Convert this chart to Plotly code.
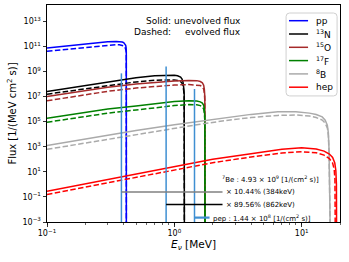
import numpy as np
import plotly.graph_objects as go

# ---------------- data (log10 of flux) ----------------
pp_E = [0.10, 0.15, 0.20, 0.25, 0.30, 0.35, 0.37, 0.39, 0.40, 0.41, 0.415, 0.418, 0.4195, 0.4200]
pp_solid = [10.87, 11.06, 11.20, 11.30, 11.38, 11.40, 11.39, 11.35, 11.30, 11.20, 11.08, 10.90, 10.55, -3.5]
pp_dashed = [10.62, 10.80, 10.94, 11.04, 11.12, 11.14, 11.13, 11.09, 11.04, 10.94, 10.82, 10.64, 10.30, -3.5]

n13_E = [0.10, 0.20, 0.30, 0.50, 0.70, 0.90, 1.00, 1.06, 1.12, 1.15, 1.17, 1.185, 1.195, 1.199]
n13_solid = [7.40, 7.88, 8.15, 8.50, 8.65, 8.71, 8.70, 8.66, 8.55, 8.40, 8.15, 7.70, 7.20, -3.5]
n13_dashed = [7.19, 7.60, 7.85, 8.17, 8.30, 8.34, 8.33, 8.29, 8.20, 8.06, 7.85, 7.45, 7.00, -3.5]

o15_E = [0.10, 0.20, 0.30, 0.50, 0.80, 1.00, 1.30, 1.50, 1.60, 1.66, 1.70, 1.72, 1.735, 1.74]
o15_solid = [7.00, 7.50, 7.75, 8.00, 8.18, 8.25, 8.29, 8.27, 8.20, 8.10, 7.90, 7.60, 7.00, -3.5]
o15_dashed = [6.66, 7.15, 7.42, 7.68, 7.86, 7.92, 7.96, 7.94, 7.88, 7.78, 7.60, 7.30, 6.70, -3.5]

f17_E = [0.10, 0.20, 0.30, 0.50, 0.80, 1.00, 1.30, 1.50, 1.60, 1.66, 1.70, 1.72, 1.735, 1.74]
f17_solid = [5.27, 5.75, 6.00, 6.25, 6.50, 6.60, 6.66, 6.65, 6.58, 6.48, 6.30, 6.00, 5.40, -3.5]
f17_dashed = [4.95, 5.43, 5.68, 5.93, 6.18, 6.28, 6.36, 6.35, 6.28, 6.18, 6.00, 5.70, 5.10, -3.5]

b8_E = [0.10, 0.20, 0.50, 1.00, 1.60, 2.50, 4.00, 6.50, 9.00, 11.5, 13.0, 14.5, 15.3, 15.9, 16.2, 16.4, 16.6, 16.75]
b8_solid = [3.10, 3.62, 4.30, 4.75, 5.02, 5.30, 5.58, 5.78, 5.78, 5.68, 5.57, 5.38, 5.12, 4.72, 4.10, 2.80, 0.30, -3.5]
b8_dashed = [2.79, 3.30, 3.97, 4.45, 4.80, 5.08, 5.33, 5.50, 5.53, 5.45, 5.33, 5.13, 4.88, 4.50, 3.90, 2.60, 0.10, -3.5]

hep_E = [0.10, 0.20, 0.50, 1.00, 2.00, 4.00, 7.00, 10.0, 13.0, 15.0, 16.5, 17.5, 18.2, 18.55, 18.75, 18.8]
hep_solid = [-0.54, 0.05, 0.85, 1.45, 2.00, 2.45, 2.80, 2.92, 2.82, 2.65, 2.42, 2.15, 1.70, 1.10, 0.00, -3.5]
hep_E_dashed = [0.10, 0.20, 0.50, 1.00, 2.00, 4.00, 7.00, 10.0, 13.0, 15.0, 16.5, 17.5, 18.0, 18.25, 18.35]
hep_dashed = [-0.81, -0.22, 0.58, 1.18, 1.73, 2.18, 2.50, 2.60, 2.52, 2.33, 2.05, 1.70, 1.20, 0.40, -3.5]

# 7Be lines (MeV) and their drawn heights (log10), pep line
be7_E = [0.384, 0.862]
be7_top = [8.85, 9.40]
pep_E = 1.44
pep_top = 7.60
y_floor = -4.0

# connector lines to the text labels
conn_y = [-0.60, -1.61]          # log10 flux of gray (384keV) and black (862keV) connectors
conn_end_E = 2.39
pep_conn_y = -2.65
pep_conn_end_E = 1.89

# tick labels
x_tick_vals = [0.1, 1, 10]
x_tick_text = ["10<sup>−1</sup>", "10<sup>0</sup>", "10<sup>1</sup>"]
y_tick_exp = [-3, -1, 1, 3, 5, 7, 9, 11, 13]
y_tick_text = ["10<sup>−3</sup>", "10<sup>−1</sup>", "10<sup>1</sup>", "10<sup>3</sup>", "10<sup>5</sup>",
               "10<sup>7</sup>", "10<sup>9</sup>", "10<sup>11</sup>", "10<sup>13</sup>"]

names = ["pp", "<sup>13</sup>N", "<sup>15</sup>O", "<sup>17</sup>F", "<sup>8</sup>B", "hep"]
colors = ["#0000ff", "#000000", "#a52a2a", "#008000", "#aaaaaa", "#ff0000"]
line_color = "#3f8fd2"

FONT = "DejaVu Sans"
W = 1.5
DASH = "5.5px,2.4px"

def f(v):
    return np.power(10.0, np.array(v, dtype=float))

fig = go.Figure()

series = [
    (pp_E, pp_solid, pp_E, pp_dashed),
    (n13_E, n13_solid, n13_E, n13_dashed),
    (o15_E, o15_solid, o15_E, o15_dashed),
    (f17_E, f17_solid, f17_E, f17_dashed),
    (b8_E, b8_solid, b8_E, b8_dashed),
    (hep_E, hep_solid, hep_E_dashed, hep_dashed),
]

for (es, ys, ed, yd), c in zip(series, colors):
    fig.add_trace(go.Scatter(x=es, y=f(ys), mode="lines", line=dict(color=c, width=W),
                             showlegend=False, hoverinfo="skip"))
    fig.add_trace(go.Scatter(x=ed, y=f(yd), mode="lines", line=dict(color=c, width=W, dash=DASH),
                             showlegend=False, hoverinfo="skip"))

# 7Be and pep vertical lines
for e, t in zip(be7_E, be7_top):
    fig.add_trace(go.Scatter(x=[e, e], y=f([y_floor, t]), mode="lines",
                             line=dict(color=line_color, width=W), showlegend=False, hoverinfo="skip"))
fig.add_trace(go.Scatter(x=[pep_E, pep_E], y=f([y_floor, pep_top]), mode="lines",
                         line=dict(color=line_color, width=W), showlegend=False, hoverinfo="skip"))

# connectors
conn_colors = ["#808080", "#000000"]
for e, yv, c in zip(be7_E, conn_y, conn_colors):
    fig.add_trace(go.Scatter(x=[e, conn_end_E], y=f([yv, yv]), mode="lines",
                             line=dict(color=c, width=W), showlegend=False, hoverinfo="skip"))
fig.add_trace(go.Scatter(x=[pep_E, pep_conn_end_E], y=f([pep_conn_y, pep_conn_y]), mode="lines",
                         line=dict(color=line_color, width=2.2), showlegend=False, hoverinfo="skip"))

# text annotations near the lines
TF = dict(family=FONT, size=7, color="#000000")
ann = [
    (2.30, 0.42, "<sup>7</sup>Be : 4.93 × 10<sup>9</sup> [1/(cm<sup>2</sup> s)]"),
    (2.45, conn_y[0], "× 10.44% (384keV)"),
    (2.45, conn_y[1], "× 89.56% (862keV)"),
    (1.95, pep_conn_y, "pep : 1.44 × 10<sup>8</sup> [1/(cm<sup>2</sup> s)]"),
]
for xe, yl, txt in ann:
    fig.add_annotation(x=np.log10(xe), y=yl, xref="x", yref="y", text=txt, showarrow=False,
                       xanchor="left", yanchor="middle", font=TF)

# "Solid / Dashed" text
HF = dict(family=FONT, size=9, color="#000000")
for yp, a, b in [(0.926, "Solid:", "unevolved flux"), (0.876, "Dashed:", "evolved flux")]:
    fig.add_annotation(x=0.43, y=yp, xref="paper", yref="paper", text=a, showarrow=False,
                       xanchor="right", yanchor="middle", font=HF)
    fig.add_annotation(x=0.669, y=yp, xref="paper", yref="paper", text=b, showarrow=False,
                       xanchor="right", yanchor="middle", font=HF)

# custom legend
x0, x1, y0, y1, r = 0.816, 0.99, 0.581, 0.963, 0.012
path = (f"M {x0 + r},{y0} L {x1 - r},{y0} Q {x1},{y0} {x1},{y0 + r*1.35} "
        f"L {x1},{y1 - r*1.35} Q {x1},{y1} {x1 - r},{y1} L {x0 + r},{y1} "
        f"Q {x0},{y1} {x0},{y1 - r*1.35} L {x0},{y0 + r*1.35} Q {x0},{y0} {x0 + r},{y0} Z")
fig.add_shape(type="path", path=path, xref="paper", yref="paper",
              line=dict(color="#d0d0d0", width=1), fillcolor="rgba(255,255,255,0.85)")
leg_y_px = [20.7, 34.0, 47.3, 60.6, 73.9, 87.2]
for ypx, nm, c in zip(leg_y_px, names, colors):
    yp = 1 - (ypx - 5) / 217
    fig.add_shape(type="line", xref="paper", yref="paper", x0=0.826, x1=0.891, y0=yp, y1=yp,
                  line=dict(color=c, width=W))
    fig.add_annotation(x=0.912, y=yp, xref="paper", yref="paper", text=nm, showarrow=False,
                       xanchor="left", yanchor="middle", font=dict(family=FONT, size=9, color="#000"))

axis_common = dict(showline=True, linecolor="#000", linewidth=1, mirror=True, ticks="outside",
                   ticklen=3.5, tickwidth=0.8, tickcolor="#000", showgrid=False, zeroline=False,
                   tickfont=dict(family=FONT, size=8, color="#000"))

fig.update_xaxes(type="log", range=[-1, 1.301], tickmode="array",
                 tickvals=x_tick_vals, ticktext=x_tick_text,
                 minor=dict(ticks="outside", ticklen=2, tickwidth=0.6, tickcolor="#000", dtick="D1", showgrid=False),
                 title=dict(text="<i>E</i><sub><i>ν</i></sub> [MeV]", font=dict(family=FONT, size=10.5, color="#000"), standoff=3),
                 **axis_common)
fig.update_yaxes(type="log", range=[-3, 14.3], tickmode="array",
                 tickvals=[10.0 ** e for e in y_tick_exp], ticktext=y_tick_text,
                 title=dict(text="Flux [1/(MeV cm<sup>2</sup> s)]", font=dict(family=FONT, size=10, color="#000"), standoff=3),
                 **axis_common)

fig.update_layout(width=349, height=262, margin=dict(l=47, r=9, t=5, b=40),
                  paper_bgcolor="white", plot_bgcolor="white", showlegend=False,
                  font=dict(family=FONT, size=8, color="#000"))

fig.write_html("out.html", config={"displayModeBar": False, "staticPlot": True},
               post_script="document.body.style.margin='0';document.body.style.overflow='hidden';")
